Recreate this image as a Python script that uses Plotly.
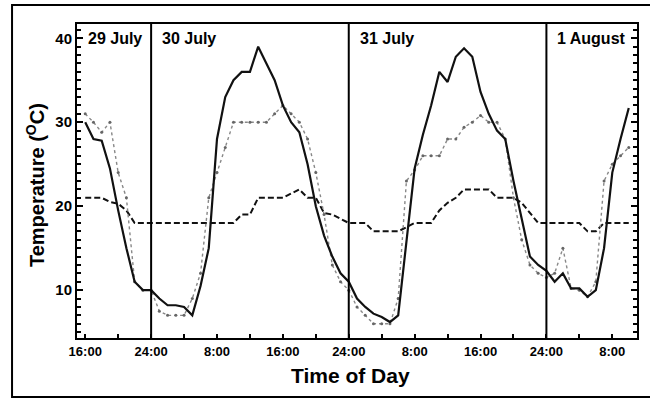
import plotly.graph_objects as go

# hours counted from 29 July 00:00
hours = [16, 17, 18, 19, 20, 21, 22, 23, 24, 25, 26, 27, 28, 29, 30, 31, 32, 33, 34, 35,
         36, 37, 38, 39, 40, 41, 42, 43, 44, 45, 46, 47, 48, 49, 50, 51, 52, 53, 54, 55,
         56, 57, 58, 59, 60, 61, 62, 63, 64, 65, 66, 67, 68, 69, 70, 71, 72, 73, 74, 75,
         76, 77, 78, 79, 80, 81, 82]

solid = [30, 28, 27.8, 24.5, 19.5, 15, 11, 10, 10, 9, 8.2, 8.2, 8, 7, 10.5, 15, 28, 33, 35, 36,
         36, 39, 37, 35, 32, 30, 28.8, 25, 20, 16.5, 14, 12, 11, 9, 8, 7.2, 6.8, 6.2, 7, 16,
         24.5, 28.5, 32, 36, 34.8, 37.8, 38.8, 37.8, 33.6, 31, 29, 28, 23, 18.5, 14, 13, 12.3, 11, 12, 10.2,
         10.2, 9.2, 10, 15, 24, 28, 31.7]

dotted = [31, 30, 28.8, 30, 24, 21, 11, 10, 10, 7.5, 7, 7, 7, 9, 12, 21, 24, 27, 30, 30,
          30, 30, 30, 31, 32, 31, 30, 28, 24, 19, 13, 11, 10, 8, 7, 6, 6, 6, 9, 23,
          24.3, 26, 26, 26, 28, 28, 29.4, 30, 30.8, 30, 30, 28, 21, 16, 13, 12, 11.5, 12, 15, 10.2,
          10, 9.2, 11, 23, 25, 26, 27]

dashed = [21, 21, 21, 20.5, 20.3, 19.5, 18, 18, 18, 18, 18, 18, 18, 18, 18, 18, 18, 18, 18, 19,
          19, 21, 21, 21, 21, 21.5, 22, 21, 21, 19.2, 19, 18.5, 18, 18, 18, 17, 17, 17, 17, 17.5,
          18, 18, 18, 19.5, 20.4, 21, 22, 22, 22, 22, 21, 21, 21, 20.4, 19.2, 18, 18, 18, 18, 18,
          18, 17, 17, 18, 18, 18, 18]

tick_alias = {"16": "16:00", "24": "24:00", "32": "8:00", "40": "16:00", "48": "24:00",
              "56": "8:00", "64": "16:00", "72": "24:00", "80": "8:00"}
midnights = [24, 48, 72]
day_labels = ["29 July", "30 July", "31 July", "1 August"]
day_starts = [15, 24, 48, 72]

FONT = "Liberation Sans, Arial, sans-serif"

fig = go.Figure()
fig.add_trace(go.Scatter(x=hours, y=dashed, mode="lines",
                         line=dict(color="#111111", width=2, dash="6px,3px")))
fig.add_trace(go.Scatter(x=hours, y=dotted, mode="lines+markers",
                         line=dict(color="#888888", width=1.4, dash="dot"),
                         marker=dict(color="#666666", size=3)))
fig.add_trace(go.Scatter(x=hours, y=solid, mode="lines",
                         line=dict(color="#111111", width=2.2)))

for m in midnights:
    fig.add_shape(type="line", xref="x", yref="paper", x0=m, x1=m, y0=0, y1=1,
                  line=dict(color="black", width=2))

for lab, xs in zip(day_labels, day_starts):
    fig.add_annotation(text="<b>%s</b>" % lab, xref="x", yref="paper", x=xs, y=0.955,
                       xanchor="left", yanchor="middle", xshift=9, showarrow=False,
                       font=dict(family=FONT, size=16, color="black"))

# outer frame
fig.add_shape(type="rect", xref="paper", yref="paper",
              x0=-0.116, x1=1.03, y0=-0.188, y1=1.0605,
              line=dict(color="black", width=2), fillcolor="rgba(0,0,0,0)", layer="below")

fig.add_annotation(text="<b>Time of Day</b>", xref="paper", yref="paper", x=0.4875, y=-0.121,
                   xanchor="center", yanchor="middle", showarrow=False,
                   font=dict(family=FONT, size=21, color="black"))
fig.add_annotation(text="<b>Temperature (<sup>O</sup>C)</b>", xref="paper", yref="paper",
                   x=-0.075, y=0.487, xanchor="center", yanchor="middle", textangle=-90,
                   showarrow=False, font=dict(family=FONT, size=20, color="black"))

fig.update_layout(
    width=650, height=400,
    margin=dict(l=77, r=13, t=24, b=62),
    paper_bgcolor="white", plot_bgcolor="white",
    showlegend=False,
    font=dict(family=FONT, color="black"),
)
fig.update_xaxes(range=[15, 83], tickmode="linear", tick0=0, dtick=8, labelalias=tick_alias,
                 ticks="inside", ticklen=4, tickwidth=1.5, tickcolor="black",
                 minor=dict(tick0=0, dtick=4, ticks="inside", ticklen=4,
                            tickwidth=1.5, tickcolor="black"),
                 showline=True, linecolor="black", linewidth=2, mirror=True,
                 showgrid=False, zeroline=False,
                 tickfont=dict(family=FONT, size=13, color="black", weight="bold"))
fig.update_yaxes(range=[4.3, 41.7], tickmode="linear", tick0=0, dtick=10,
                 ticks="inside", ticklen=6, tickwidth=1.6, tickcolor="black",
                 minor=dict(tick0=0, dtick=1, ticks="inside", ticklen=4, tickwidth=1.5,
                            tickcolor="black"),
                 showline=True, linecolor="black", linewidth=2, mirror="ticks",
                 showgrid=False, zeroline=False,
                 tickfont=dict(family=FONT, size=15, color="black", weight="bold"))

fig.write_html("out.html", config={"displayModeBar": False},
               post_script="document.body.style.margin='0';")
